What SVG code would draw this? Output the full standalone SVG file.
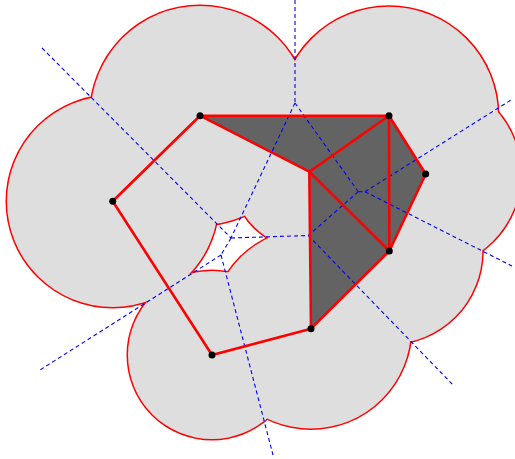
<svg xmlns="http://www.w3.org/2000/svg" width="515" height="459" viewBox="0 0 515 459">
<style>
.ring{fill:none;stroke:#ff0000;stroke-width:3}
.disk{fill:#dedede;stroke:none}
.tri{fill:#636363;stroke:none}
.vor{fill:none;stroke:#0000ff;stroke-width:1.1;stroke-dasharray:4 3}
.edge{fill:none;stroke:#ff0000;stroke-width:2.6;stroke-linecap:round}
.pt{fill:#000000}
</style>
<rect width="515" height="459" fill="#ffffff"/>
<g id="disks">
<circle class="ring" cx="200" cy="115.5" r="109.5"/>
<circle class="ring" cx="389" cy="115.7" r="109"/>
<circle class="ring" cx="425.7" cy="174" r="95"/>
<circle class="ring" cx="309.3" cy="171.7" r="78"/>
<circle class="ring" cx="389.3" cy="251" r="93"/>
<circle class="ring" cx="311" cy="328.5" r="100"/>
<circle class="ring" cx="212" cy="355" r="84"/>
<circle class="ring" cx="112.7" cy="201.3" r="105.7"/>
<circle class="disk" cx="200" cy="115.5" r="109.5"/>
<circle class="disk" cx="389" cy="115.7" r="109"/>
<circle class="disk" cx="425.7" cy="174" r="95"/>
<circle class="disk" cx="309.3" cy="171.7" r="78"/>
<circle class="disk" cx="389.3" cy="251" r="93"/>
<circle class="disk" cx="311" cy="328.5" r="100"/>
<circle class="disk" cx="212" cy="355" r="84"/>
<circle class="disk" cx="112.7" cy="201.3" r="105.7"/>
</g>
<g id="triangles">
<polygon class="tri" points="200,115.7 389,115.7 309.3,171.7"/>
<polygon class="tri" points="389,115.7 425.7,174 389.3,251"/>
<polygon class="tri" points="389,115.7 309.3,171.7 389.3,251"/>
<polygon class="tri" points="309.3,171.7 389.3,251 311,328.7"/>
</g>
<g id="connectors">
<g id="voronoi">
<line class="vor" x1="295" y1="0" x2="295" y2="103"/>
<line class="vor" x1="42" y1="48" x2="231" y2="238"/>
<line class="vor" x1="295" y1="103" x2="358.3" y2="191.7"/>
<line class="vor" x1="295" y1="103" x2="231" y2="238"/>
<line class="vor" x1="231" y1="238" x2="308.3" y2="235.5"/>
<line class="vor" x1="231" y1="238" x2="221" y2="255"/>
<line class="vor" x1="221" y1="255" x2="40" y2="370"/>
<line class="vor" x1="221" y1="255" x2="273" y2="455"/>
<line class="vor" x1="358.3" y1="191.7" x2="365" y2="191.7"/>
<line class="vor" x1="358.3" y1="191.7" x2="308.3" y2="235.5"/>
<line class="vor" x1="308.3" y1="235.5" x2="453" y2="385"/>
<line class="vor" x1="365" y1="191.7" x2="512" y2="266"/>
<line class="vor" x1="365" y1="191.7" x2="511" y2="100"/>
</g>
<g id="edges">
<line class="edge" x1="200" y1="115.7" x2="389" y2="115.7"/>
<line class="edge" x1="389" y1="115.7" x2="425.7" y2="174"/>
<line class="edge" x1="425.7" y1="174" x2="389.3" y2="251"/>
<line class="edge" x1="389.3" y1="251" x2="311" y2="328.7"/>
<line class="edge" x1="311" y1="328.7" x2="212" y2="355"/>
<line class="edge" x1="212" y1="355" x2="112.7" y2="201.3"/>
<line class="edge" x1="112.7" y1="201.3" x2="200" y2="115.7"/>
<line class="edge" x1="200" y1="115.7" x2="309.3" y2="171.7"/>
<line class="edge" x1="389" y1="115.7" x2="309.3" y2="171.7"/>
<line class="edge" x1="309.3" y1="171.7" x2="389.3" y2="251"/>
<line class="edge" x1="389" y1="115.7" x2="389.3" y2="251"/>
<line class="edge" x1="309.3" y1="171.7" x2="311" y2="328.7"/>
</g>
</g>
<g id="nodes">
<circle id="A" class="pt" cx="200" cy="115.7" r="3.5"/>
<circle id="B" class="pt" cx="389" cy="115.7" r="3.5"/>
<circle id="C" class="pt" cx="425.7" cy="174" r="3.5"/>
<circle id="E" class="pt" cx="389.3" cy="251" r="3.5"/>
<circle id="F" class="pt" cx="311" cy="328.7" r="3.5"/>
<circle id="G" class="pt" cx="212" cy="355" r="3.5"/>
<circle id="H" class="pt" cx="112.7" cy="201.3" r="3.5"/>
</g>
</svg>
